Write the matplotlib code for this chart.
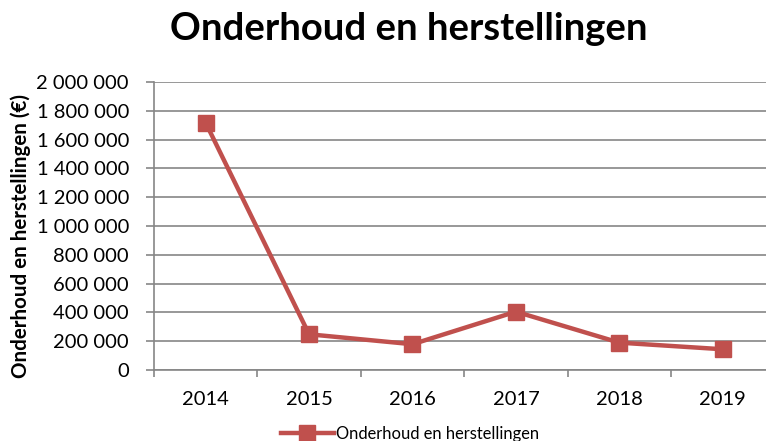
import matplotlib.pyplot as plt
from matplotlib.ticker import FuncFormatter, FixedLocator

# data
years = ["2014", "2015", "2016", "2017", "2018", "2019"]
kosten = [1717000, 248000, 179000, 405000, 190000, 144000]
y_ticks = list(range(0, 2000001, 200000))

plt.rcParams["font.family"] = ["Lato", "DejaVu Sans"]

red = "#C0504D"
grey = "#868686"

fig = plt.figure(figsize=(7.66, 4.41), dpi=100)
ax = fig.add_axes([0.201, 0.161, 0.81, 0.653])

x = range(len(years))
ax.plot(x, kosten, color=red, lw=3.2, marker="s", markersize=11,
        label="Onderhoud en herstellingen", zorder=3, clip_on=False)

ax.set_xlim(-0.5, 5.5)
ax.set_ylim(0, 2000000)
ax.set_yticks(y_ticks)
ax.yaxis.set_major_formatter(FuncFormatter(lambda v, p: f"{int(v):,}".replace(",", " ")))
ax.set_xticks(list(x))
ax.set_xticklabels(years)
ax.xaxis.set_minor_locator(FixedLocator([i - 0.5 for i in range(len(years) + 1)]))
ax.tick_params(axis="x", which="major", length=0, labelsize=14.5, pad=15)
ax.tick_params(axis="x", which="minor", length=5, color=grey, width=1.2)
ax.tick_params(axis="y", length=6, color=grey, width=1.2, labelsize=14.5, pad=12)

ax.grid(axis="y", color=grey, lw=1.2)
ax.set_axisbelow(True)
for s in ["top", "right"]:
    ax.spines[s].set_visible(False)
for s in ["left", "bottom"]:
    ax.spines[s].set_color(grey)
    ax.spines[s].set_linewidth(1.2)

ax.set_ylabel("Onderhoud en herstellingen (€)", fontsize=14.8, fontweight="bold")
ax.yaxis.set_label_coords(-0.198, 0.465)
fig.suptitle("Onderhoud en herstellingen", fontsize=27.5, fontweight="bold",
             x=0.533, y=0.972)

fig.legend(loc="lower center", bbox_to_anchor=(0.535, -0.035), frameon=False,
           fontsize=11.9, handlelength=3.2, handletextpad=0.1)

plt.savefig("out.png", dpi=100)
